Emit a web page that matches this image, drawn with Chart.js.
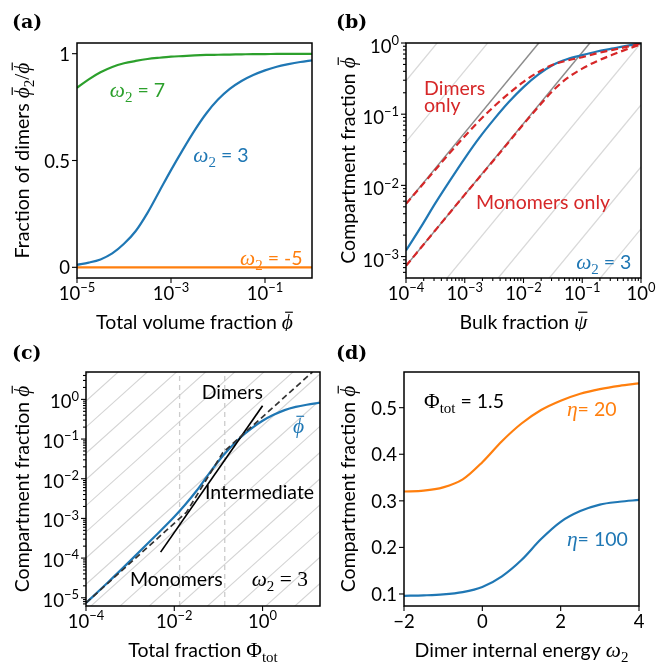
<!DOCTYPE html>
<html>
<head>
<meta charset="utf-8">
<script src="https://cdn.jsdelivr.net/npm/chart.js@4.4.1/dist/chart.umd.min.js"></script>
<style>
body { margin: 0; background: #fff; }
#fig { position: relative; width: 668px; height: 662px; }
canvas { position: absolute; }
</style>
</head>
<body>
<div id="fig">
<canvas id="pa" width="334" height="331" style="left:0;top:0"></canvas>
<canvas id="pb" width="334" height="331" style="left:334px;top:0"></canvas>
<canvas id="pc" width="334" height="331" style="left:0;top:331px"></canvas>
<canvas id="pd" width="334" height="331" style="left:334px;top:331px"></canvas>
</div>
<script>
// ---------- values ----------
// (a) fraction of dimers, x given as log10 of total volume fraction
const aLogX = [-5, -4.75, -4.5, -4.25, -4, -3.75, -3.5, -3.25, -3, -2.75, -2.5, -2.25, -2, -1.75, -1.5, -1.25, -1, -0.75, -0.5, -0.25, 0];
const aOmega7 = [0.84, 0.88, 0.913, 0.938, 0.955, 0.966, 0.975, 0.981, 0.986, 0.989, 0.992, 0.994, 0.995, 0.996, 0.997, 0.998, 0.998, 0.999, 0.999, 0.999, 0.999];
const aOmega3 = [0.012, 0.022, 0.037, 0.065, 0.11, 0.17, 0.255, 0.355, 0.455, 0.55, 0.64, 0.72, 0.785, 0.835, 0.872, 0.9, 0.922, 0.939, 0.951, 0.961, 0.969];
const aOmegaM5 = [0, 0, 0, 0, 0, 0, 0, 0, 0, 0, 0, 0, 0, 0, 0, 0, 0, 0, 0, 0, 0];
const aXTickExp = [-5, -3, -1];
const aYTicks = [0, 0.5, 1];
const aYTickLabels = ['0', '0.5', '1'];

// (b) compartment vs bulk fraction, both as log10
const bLogX = [-4, -3.75, -3.5, -3.25, -3, -2.75, -2.5, -2.25, -2, -1.75, -1.5, -1.25, -1, -0.75, -0.5, -0.25, 0];
const bBlueLogY = [-2.915, -2.59, -2.25, -1.93, -1.62, -1.33, -1.07, -0.83, -0.62, -0.445, -0.31, -0.225, -0.17, -0.12, -0.08, -0.04, -0.005];
const bDimersLogY = [-2.26, -2.02, -1.78, -1.54, -1.31, -1.09, -0.89, -0.71, -0.545, -0.41, -0.305, -0.245, -0.2, -0.145, -0.1, -0.055, -0.01];
const bMonomersLogY = [-3.13, -2.88, -2.63, -2.38, -2.13, -1.885, -1.64, -1.39, -1.14, -0.9, -0.67, -0.49, -0.36, -0.255, -0.17, -0.09, -0.02];
const bGuideLight = [-2.61, -1.74, -0.87, 0, 2.61, 3.47];   // log10 offsets of slope-1 guides
const bGuideDark = [0.87, 1.74];
const bXTickExp = [-4, -3, -2, -1, 0];
const bYTickExp = [-3, -2, -1, 0];

// (c) compartment fraction vs total fraction, log10
const cLogX = [-4, -3.5, -3, -2.5, -2, -1.75, -1.5, -1.25, -1, -0.75, -0.5, -0.25, 0, 0.25, 0.5, 0.75, 1, 1.3];
const cBlueLogY = [-5.13, -4.61, -4.07, -3.52, -2.96, -2.65, -2.31, -1.93, -1.56, -1.24, -0.96, -0.73, -0.54, -0.39, -0.27, -0.19, -0.135, -0.085];
const cApproxLogX = [-4, -1.72, -0.9, 1.13];
const cApproxLogY = [-5.13, -2.84, -1.34, 0.69];
const cTangentLogX = [-2.31, 0];
const cTangentLogY = [-3.85, -0.16];
const cRegimeBounds = [0.0132, 0.139];
const cHatch = [-5.94, -5.28, -4.62, -3.96, -3.3, -2.64, -1.98, -1.32, -0.66, 0, 0.66, 1.32, 1.98, 2.64, 3.3, 3.96, 4.62];
const cXTickExp = [-4, -2, 0];
const cYTickExp = [-5, -4, -3, -2, -1, 0];

// (d) compartment fraction vs dimer internal energy
const dOmega = [-2, -1.5, -1, -0.5, 0, 0.5, 1, 1.5, 2, 2.5, 3, 3.5, 4];
const dEta20 = [0.32, 0.322, 0.329, 0.346, 0.383, 0.428, 0.466, 0.495, 0.515, 0.53, 0.54, 0.547, 0.552];
const dEta100 = [0.096, 0.097, 0.099, 0.104, 0.115, 0.138, 0.173, 0.218, 0.255, 0.278, 0.292, 0.298, 0.302];
const dXTicks = [-2, 0, 2, 4];
const dXTickLabels = ['\u22122', '0', '2', '4'];
const dYTicks = [0.1, 0.2, 0.3, 0.4, 0.5];
const dYTickLabels = ['0.1', '0.2', '0.3', '0.4', '0.5'];

// ---------- styling ----------
const BLUE = '#1f77b4', ORANGE = '#ff7f0e', GREEN = '#2ca02c', RED = '#d62728';
const SANS = 'Lato, "DejaVu Sans", sans-serif';
const MATH = '"Liberation Serif", "DejaVu Serif", serif';
const TICK_SIZE = 18.5, TEXT_SIZE = 19.5;

// rich text segments
const sn = t => ({ t });
const mi = (t, o) => Object.assign({ t, m: 1 }, o);
const mr = (t, o) => Object.assign({ t, r: 1 }, o);
const phiBar = mi('\u03d5', { bar: 1 });
const omega2 = [mi('\u03c9'), mr('2', { sub: 1 })];

function segFont(s, size) {
  const sz = (s.sub || s.sup) ? size * 0.7 : size;
  if (s.m) return 'italic ' + (sz * 1.1) + 'px ' + MATH;
  if (s.r) return (sz * 1.1) + 'px ' + MATH;
  return sz + 'px ' + SANS;
}
function richWidth(ctx, segs, size) {
  let w = 0;
  segs.forEach(s => { ctx.font = segFont(s, size); w += ctx.measureText(s.t).width; });
  return w;
}
function drawRich(ctx, segs, x, y, size, color, align) {
  ctx.save();
  ctx.fillStyle = color; ctx.strokeStyle = color;
  ctx.textAlign = 'left'; ctx.textBaseline = 'alphabetic';
  const w = richWidth(ctx, segs, size);
  let cx = align === 'center' ? x - w / 2 : align === 'right' ? x - w : x;
  segs.forEach(s => {
    ctx.font = segFont(s, size);
    const dy = s.sub ? size * 0.25 : s.sup ? -size * 0.42 : 0;
    ctx.fillText(s.t, cx, y + dy);
    const sw = ctx.measureText(s.t).width;
    if (s.bar) {
      ctx.lineWidth = size * 0.06;
      ctx.beginPath();
      ctx.moveTo(cx + sw * 0.3, y + dy - size * 0.86);
      ctx.lineTo(cx + sw * 1.0, y + dy - size * 0.86);
      ctx.stroke();
    }
    cx += sw;
  });
  ctx.restore();
}
function pow10(e) {
  return [sn('10'), { t: (e < 0 ? '\u2212' : '') + Math.abs(e), sup: 1 }];
}
function logMinors(lo, hi) {
  const out = [];
  for (let e = lo; e < hi; e++) for (let k = 2; k <= 9; k++) out.push(k * Math.pow(10, e));
  return out;
}

function pts(xs, ys, logX, logY) {
  return xs.map((x, i) => ({ x: logX ? Math.pow(10, x) : x, y: logY ? Math.pow(10, ys[i]) : ys[i] }));
}
function line(data, color, width, dash, smooth) {
  return {
    data: data, borderColor: color, borderWidth: width, borderDash: dash || [],
    showLine: true, pointRadius: 0, fill: false, clip: 0,
    cubicInterpolationMode: smooth ? 'monotone' : 'default', tension: 0
  };
}

function decoPlugin(spec) {
  return {
    id: 'deco',
    afterDatasetsDraw(chart) {
      const ctx = chart.ctx, a = chart.chartArea, sx = chart.scales.x, sy = chart.scales.y;
      ctx.save();
      ctx.strokeStyle = '#000';
      ctx.lineWidth = 1.1;
      const seg = (x1, y1, x2, y2) => { ctx.beginPath(); ctx.moveTo(x1, y1); ctx.lineTo(x2, y2); ctx.stroke(); };
      (spec.xMinor || []).forEach(v => { const p = sx.getPixelForValue(v); if (p > a.left && p < a.right) seg(p, a.bottom, p, a.bottom + 3); });
      (spec.yMinor || []).forEach(v => { const p = sy.getPixelForValue(v); if (p > a.top && p < a.bottom) seg(a.left, p, a.left - 3, p); });
      spec.xTicks.forEach(t => { const p = sx.getPixelForValue(t[0]); seg(p, a.bottom, p, a.bottom + 5); });
      spec.yTicks.forEach(t => { const p = sy.getPixelForValue(t[0]); seg(a.left, p, a.left - 5, p); });
      ctx.lineWidth = 1.5;
      ctx.strokeRect(a.left, a.top, a.right - a.left, a.bottom - a.top);

      spec.xTicks.forEach(t => drawRich(ctx, t[1], sx.getPixelForValue(t[0]), a.bottom + 22, TICK_SIZE, '#000', 'center'));
      spec.yTicks.forEach(t => drawRich(ctx, t[1], a.left - 7, sy.getPixelForValue(t[0]) + spec.yLabDy, TICK_SIZE, '#000', 'right'));

      drawRich(ctx, spec.xTitle, (a.left + a.right) / 2, a.bottom + 51, TEXT_SIZE, '#000', 'center');
      ctx.save();
      ctx.translate(spec.yTitleX, (a.top + a.bottom) / 2);
      ctx.rotate(-Math.PI / 2);
      drawRich(ctx, spec.yTitle, 0, 0, TEXT_SIZE, '#000', 'center');
      ctx.restore();

      spec.notes.forEach(n => drawRich(ctx, n.segs, sx.getPixelForValue(n.at[0]), sy.getPixelForValue(n.at[1]), TEXT_SIZE, n.color, 'left'));

      ctx.fillStyle = '#000';
      ctx.font = 'bold 19px "DejaVu Serif", serif';
      ctx.textAlign = 'left'; ctx.textBaseline = 'alphabetic';
      ctx.fillText(spec.letter, spec.letterX, 28);
      ctx.restore();
    }
  };
}

function makeChart(id, datasets, xs, ys, pad, spec) {
  return new Chart(document.getElementById(id), {
    type: 'scatter',
    data: { datasets: datasets },
    options: {
      animation: false, responsive: false, devicePixelRatio: 1, events: [],
      layout: { padding: pad },
      plugins: { legend: { display: false }, tooltip: { enabled: false } },
      scales: {
        x: Object.assign({ display: false }, xs),
        y: Object.assign({ display: false }, ys)
      }
    },
    plugins: [decoPlugin(spec)]
  });
}

// ---------- (a) ----------
makeChart('pa', [
  line(pts(aLogX, aOmega3, true, false), BLUE, 2.2, null, true),
  line(pts(aLogX, aOmega7, true, false), GREEN, 2.2, null, true),
  line(pts(aLogX, aOmegaM5, true, false), ORANGE, 2.2)
], { type: 'logarithmic', min: 1e-5, max: 1 }, { type: 'linear', min: -0.05, max: 1.05 },
{ left: 77, top: 43, right: 22, bottom: 53 }, {
  letter: '(a)', letterX: 12, yTitleX: 29, yLabDy: 7,
  xTicks: aXTickExp.map(e => [Math.pow(10, e), pow10(e)]),
  yTicks: aYTicks.map((v, i) => [v, [sn(aYTickLabels[i])]]),
  xTitle: [sn('Total volume fraction '), phiBar],
  yTitle: [sn('Fraction of dimers '), phiBar, mr('2', { sub: 1 }), mr('/'), phiBar],
  notes: [
    { segs: omega2.concat([sn(' = 7')]), at: [5.0e-5, 0.796], color: GREEN },
    { segs: omega2.concat([sn(' = 3')]), at: [2.98e-3, 0.493], color: BLUE },
    { segs: omega2.concat([sn(' = -5')]), at: [0.0294, 0.011], color: ORANGE }
  ]
});

// ---------- (b) ----------
const bGuides = [];
bGuideDark.forEach(b => bGuides.push(line([{ x: 1e-4, y: 1e-4 * Math.pow(10, b) }, { x: 1, y: Math.pow(10, b) }], '#8c8c8c', 1.5)));
bGuideLight.forEach(b => bGuides.push(line([{ x: 1e-4, y: 1e-4 * Math.pow(10, b) }, { x: 1, y: Math.pow(10, b) }], '#d9d9d9', 1.3)));
makeChart('pb', [
  line(pts(bLogX, bDimersLogY, true, true), RED, 2.2, [7, 4], true),
  line(pts(bLogX, bMonomersLogY, true, true), RED, 2.2, [7, 4], true),
  line(pts(bLogX, bBlueLogY, true, true), BLUE, 2.2, null, true)
].concat(bGuides), { type: 'logarithmic', min: 1e-4, max: 1 }, { type: 'logarithmic', min: 5e-4, max: 1 },
{ left: 72, top: 43, right: 27, bottom: 53 }, {
  letter: '(b)', letterX: 2, yTitleX: 21, yLabDy: 10,
  xTicks: bXTickExp.map(e => [Math.pow(10, e), pow10(e)]),
  yTicks: bYTickExp.map(e => [Math.pow(10, e), pow10(e)]),
  xMinor: logMinors(-4, 0), yMinor: logMinors(-4, 0),
  xTitle: [sn('Bulk fraction '), mi('\u03c8', { bar: 1 })],
  yTitle: [sn('Compartment fraction '), phiBar],
  notes: [
    { segs: [sn('Dimers')], at: [2.03e-4, 0.185], color: RED },
    { segs: [sn('only')], at: [2.03e-4, 0.107], color: RED },
    { segs: [sn('Monomers only')], at: [1.55e-3, 4.7e-3], color: RED },
    { segs: omega2.concat([sn(' = 3')]), at: [0.0787, 6.7e-4], color: BLUE }
  ]
});

// ---------- (c) ----------
const cBack = [];
cRegimeBounds.forEach(v => cBack.push(line([{ x: v, y: 6.2e-6 }, { x: v, y: 4.9 }], '#cccccc', 1.3, [5, 4])));
cHatch.forEach(b => cBack.push(line([{ x: 1e-4, y: 1e-4 * Math.pow(10, b) }, { x: 20, y: 20 * Math.pow(10, b) }], '#d4d4d4', 1.1)));
makeChart('pc', [
  line(pts(cApproxLogX, cApproxLogY, true, true), '#333', 1.7, [6, 3.5]),
  line(pts(cTangentLogX, cTangentLogY, true, true), '#000', 1.7),
  line(pts(cLogX, cBlueLogY, true, true), BLUE, 2.2, null, true)
].concat(cBack), { type: 'logarithmic', min: 1e-4, max: 20 }, { type: 'logarithmic', min: 6.2e-6, max: 4.9 },
{ left: 86, top: 41, right: 14, bottom: 56 }, {
  letter: '(c)', letterX: 12, yTitleX: 29, yLabDy: 9,
  xTicks: cXTickExp.map(e => [Math.pow(10, e), pow10(e)]),
  yTicks: cYTickExp.map(e => [Math.pow(10, e), pow10(e)]),
  yMinor: logMinors(-6, 1),
  xTitle: [sn('Total fraction '), mr('\u03a6'), mr('tot', { sub: 1 })],
  yTitle: [sn('Compartment fraction '), phiBar],
  notes: [
    { segs: [sn('Dimers')], at: [0.0418, 1.0], color: '#000' },
    { segs: [sn('Intermediate')], at: [0.0497, 3.03e-3], color: '#000' },
    { segs: [sn('Monomers')], at: [9.93e-4, 1.98e-5], color: '#000' },
    { segs: omega2.concat([mr(' = 3')]), at: [0.567, 1.98e-5], color: '#000' },
    { segs: [phiBar], at: [4.9, 0.1416], color: BLUE }
  ]
});

// ---------- (d) ----------
makeChart('pd', [
  line(pts(dOmega, dEta20, false, false), ORANGE, 2.2, null, true),
  line(pts(dOmega, dEta100, false, false), BLUE, 2.2, null, true)
], { type: 'linear', min: -2, max: 4 }, { type: 'linear', min: 0.0742, max: 0.5766 },
{ left: 70, top: 41, right: 29, bottom: 56 }, {
  letter: '(d)', letterX: 2, yTitleX: 21, yLabDy: 7,
  xTicks: dXTicks.map((v, i) => [v, [sn(dXTickLabels[i])]]),
  yTicks: dYTicks.map((v, i) => [v, [sn(dYTickLabels[i])]]),
  xTitle: [sn('Dimer internal energy ')].concat(omega2),
  yTitle: [sn('Compartment fraction '), phiBar],
  notes: [
    { segs: [mr('\u03a6'), mr('tot', { sub: 1 }), sn(' = 1.5')], at: [-1.489, 0.4987], color: '#000' },
    { segs: [mi('\u03b7'), sn('= 20')], at: [2.161, 0.482], color: ORANGE },
    { segs: [mi('\u03b7'), sn('= 100')], at: [2.161, 0.203], color: BLUE }
  ]
});
</script>
</body>
</html>
